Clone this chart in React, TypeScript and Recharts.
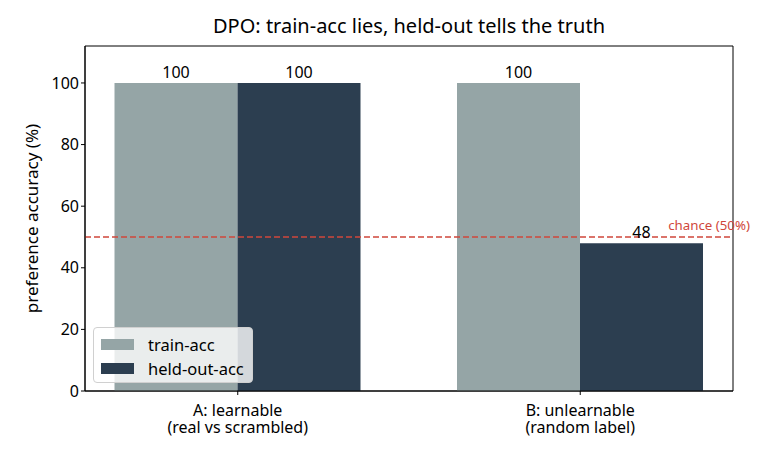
import {
  BarChart, Bar, XAxis, YAxis, ReferenceLine, ReferenceArea, LabelList, Legend,
} from 'recharts';

const categories = ['A: learnable\n(real vs scrambled)', 'B: unlearnable\n(random label)'];
const trainAcc = [100, 100];
const heldOutAcc = [100, 48];
const yTicks = [0, 20, 40, 60, 80, 100];
const chanceLevel = 50;

const TRAIN = '#95a5a6';
const HELD = '#2c3e50';
const RED = '#d0473b';
const FONT = '"Noto Sans", sans-serif';

const data = categories.map((c, i) => ({
  x: i,
  name: c,
  train: trainAcc[i],
  heldout: heldOutAcc[i],
}));

function CategoryTick({ x, y, payload }: any) {
  const lines = categories[payload.value].split('\n');
  return (
    <g>
      {lines.map((l, i) => (
        <text key={i} x={x} y={y + 19 + i * 17} textAnchor="middle" fontSize={16} fill="#000" fontFamily={FONT}>
          {l}
        </text>
      ))}
    </g>
  );
}

function LegendBox() {
  const items = [
    { label: 'train-acc', color: TRAIN },
    { label: 'held-out-acc', color: HELD },
  ];
  return (
    <div style={{
      background: 'rgba(255,255,255,0.8)', border: '1px solid #d0d0d0', borderRadius: 4,
      padding: '4px 8px 2px 7px', fontFamily: FONT, fontSize: 16.5, width: 143,
      boxSizing: 'content-box',
    }}>
      {items.map((it) => (
        <div key={it.label} style={{ display: 'flex', alignItems: 'center', height: 24, whiteSpace: 'nowrap' }}>
          <span style={{ width: 33, height: 11, background: it.color, marginRight: 14, flexShrink: 0 }} />
          <span>{it.label}</span>
        </div>
      ))}
    </div>
  );
}

export default function App() {
  return (
    <div style={{ position: 'fixed', left: 0, top: 0, width: 768, height: 456, background: '#fff' }}>
      <div style={{
        position: 'absolute', left: 85, width: 648, top: 13, textAlign: 'center',
        fontFamily: FONT, fontSize: 20, color: '#000', lineHeight: '26px',
      }}>
        DPO: train-acc lies, held-out tells the truth
      </div>
      <BarChart
        width={768}
        height={456}
        data={data}
        barGap={0}
        margin={{ top: 46, right: 35, left: 25, bottom: 0 }}
        style={{ fontFamily: FONT }}
      >
        <XAxis
          type="number"
          dataKey="x"
          domain={[-0.446, 1.446]}
          ticks={[0, 1]}
          allowDataOverflow
          height={65}
          stroke="#000"
          tickSize={4}
          tick={<CategoryTick />}
        />
        <YAxis
          type="number"
          domain={[0, 112]}
          ticks={yTicks}
          allowDataOverflow
          width={60}
          stroke="#000"
          tickSize={4}
          tick={{ fontSize: 16, fill: '#000', fontFamily: FONT }}
          label={{
            content: ({ viewBox }: any) => {
              const cy = viewBox.y + viewBox.height / 2;
              return (
                <text x={38} y={cy} transform={`rotate(-90 38 ${cy})`} textAnchor="middle"
                  fontSize={17} fill="#000" fontFamily={FONT}>
                  preference accuracy (%)
                </text>
              );
            },
          }}
        />
        <Legend
          layout="vertical"
          align="center"
          verticalAlign="middle"
          wrapperStyle={{ left: 93, top: 327, width: 160 }}
          content={() => <LegendBox />}
        />
        <Bar dataKey="train" name="train-acc" fill={TRAIN} barSize={123} isAnimationActive={false}>
          <LabelList dataKey="train" position="top" offset={5} fontSize={16} fill="#000" fontFamily={FONT} />
        </Bar>
        <Bar dataKey="heldout" name="held-out-acc" fill={HELD} barSize={123} isAnimationActive={false}>
          <LabelList dataKey="heldout" position="top" offset={5} fontSize={16} fill="#000" fontFamily={FONT} />
        </Bar>
        <ReferenceLine
          y={chanceLevel}
          stroke={RED}
          strokeWidth={1.5}
          strokeDasharray="6 3"
          label={{
            content: ({ viewBox }: any) => (
              <text x={viewBox.x + viewBox.width + 17} y={viewBox.y - 7} textAnchor="end"
                fontSize={13.3} fill={RED} fontFamily={FONT}>
                chance (50%)
              </text>
            ),
          }}
        />
        <ReferenceArea
          x1={-0.446} x2={1.446} y1={0} y2={112}
          fill="none" stroke="#000" strokeWidth={1} ifOverflow="visible"
        />
      </BarChart>
    </div>
  );
}
